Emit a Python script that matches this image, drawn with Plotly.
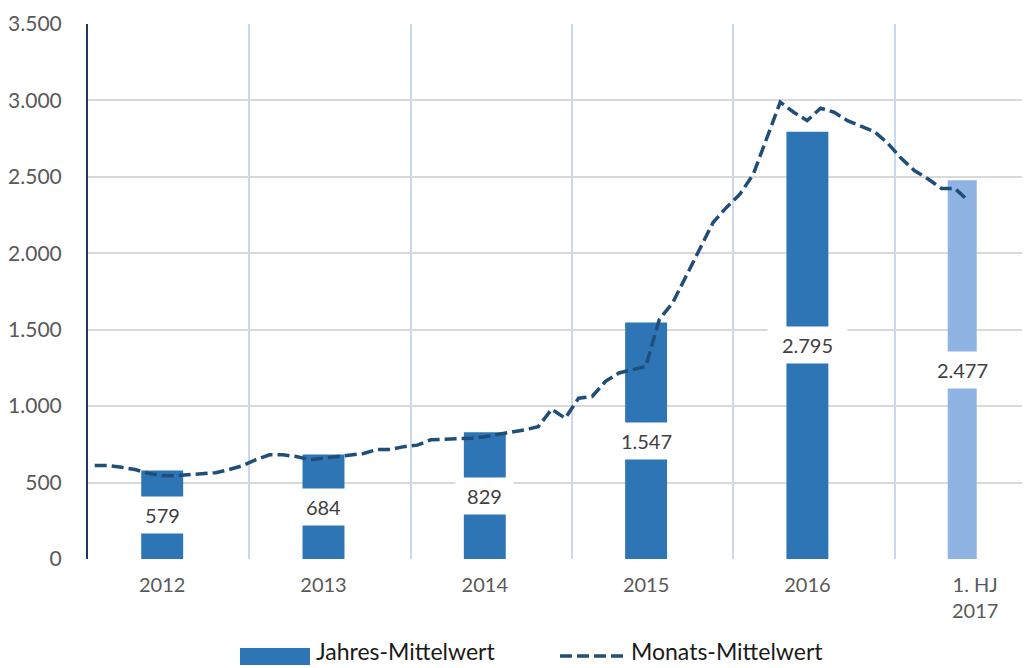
import plotly.graph_objects as go

# ---- data ----
categories = ["2012", "2013", "2014", "2015", "2016", "1. HJ<br>2017"]
annual_values = [579, 684, 829, 1547, 2795, 2477]
annual_labels = ["579", "684", "829", "1.547", "2.795", "2.477"]

monthly_2012 = [611, 611, 600, 585, 560, 545, 545, 553, 558, 565, 585, 610]
monthly_2013 = [650, 682, 682, 670, 649, 660, 672, 680, 690, 717, 717, 735]
monthly_2014 = [745, 780, 783, 783, 790, 800, 815, 830, 845, 866, 980, 921]
monthly_2015 = [1052, 1063, 1162, 1217, 1240, 1260, 1567, 1676, 1851, 2026, 2201, 2300]
monthly_2016 = [2387, 2518, 2748, 2989, 2923, 2868, 2949, 2923, 2868, 2830, 2796, 2720]
monthly_2017 = [2621, 2540, 2486, 2424, 2424, 2343]

y_ticks = [0, 500, 1000, 1500, 2000, 2500, 3000, 3500]

# ---- derived positions (x axis in years since Jan 2012) ----
monthly = monthly_2012 + monthly_2013 + monthly_2014 + monthly_2015 + monthly_2016 + monthly_2017
month_x = [(i + 0.5) / 12 for i in range(len(monthly))]

n_full = len(categories) - 1
bar_width = [0.26] * n_full + [0.18]
bar_left = [i + 0.33 for i in range(len(categories))]
bar_x = [l + w / 2 for l, w in zip(bar_left, bar_width)]
tick_x = bar_x[:n_full] + [n_full + 0.5]

bar_colors = ["#2E75B6"] * n_full + ["#8FB4E3"]
line_color = "#1F4E79"
tick_color = "#595959"
FONT = "Lato"

fig = go.Figure()
fig.add_trace(go.Bar(
    x=bar_x, y=annual_values, width=bar_width,
    marker=dict(color=bar_colors, line=dict(width=0)),
    name="Jahres-Mittelwert", showlegend=False, hoverinfo="skip",
))
fig.add_trace(go.Scatter(
    x=month_x, y=monthly, mode="lines",
    line=dict(color=line_color, width=3.5, dash="12px,5px"),
    name="Monats-Mittelwert", showlegend=False, hoverinfo="skip",
))

# data labels centred in the bars, white box
for x, v, t in zip(bar_x, annual_values, annual_labels):
    fig.add_annotation(
        x=x, y=v / 2, text=t, showarrow=False,
        font=dict(family=FONT, size=20, color="#404040"),
        bgcolor="white", borderpad=6, width=11 * len(t) + 12,
    )

# page has an 8px body margin -> figure origin at (8, 8)
OFF = 8
W, H = 1030 - OFF, 668 - OFF
PL, PT, PB = 88, 24, 559          # plot area edges in page pixels
ML, MR, MT = PL - OFF, 0, PT - OFF
MB = H - (PB - OFF)
pw, ph = W - ML - MR, H - MT - MB


def px_x(p):
    return (p - PL) / pw


def px_y(p):
    return (PB - p) / ph


# custom legend
fig.add_shape(type="rect", xref="paper", yref="paper",
              x0=px_x(240), x1=px_x(310), y0=px_y(665), y1=px_y(648),
              fillcolor="#2E75B6", line=dict(width=0))
fig.add_annotation(xref="paper", yref="paper", x=px_x(314), y=px_y(667),
                   xanchor="left", yanchor="bottom", showarrow=False,
                   text="Jahres-Mittelwert",
                   font=dict(family=FONT, size=23, color="#1a1a1a"))
fig.add_shape(type="line", xref="paper", yref="paper",
              x0=px_x(560), x1=px_x(623), y0=px_y(656), y1=px_y(656),
              line=dict(color=line_color, width=3.5, dash="12px,5px"))
fig.add_annotation(xref="paper", yref="paper", x=px_x(629), y=px_y(667),
                   xanchor="left", yanchor="bottom", showarrow=False,
                   text="Monats-Mittelwert",
                   font=dict(family=FONT, size=23, color="#1a1a1a"))

fig.update_layout(
    width=W, height=H,
    margin=dict(l=ML, r=MR, t=MT, b=MB),
    paper_bgcolor="white", plot_bgcolor="white",
    separators=",.",
    font=dict(family=FONT, size=20, color=tick_color),
    xaxis=dict(
        range=[0, (1030 - PL) / 161.3], tickmode="array", tickvals=tick_x, ticktext=categories,
        showgrid=False, zeroline=False, showline=False, ticks="",
        ticklabelstandoff=12,
        tickfont=dict(family=FONT, size=20, color=tick_color),
        minor=dict(tickmode="array", tickvals=list(range(1, len(categories))),
                   showgrid=True, gridcolor="#C9D8EE", gridwidth=2, ticks=""),
    ),
    yaxis=dict(
        range=[0, 3500], tickmode="array", tickvals=y_ticks, tickformat=",d",
        showgrid=True, gridcolor="#D9D9D9", gridwidth=2, zeroline=False,
        showline=True, linecolor="#1F3864", linewidth=2,
        ticks="", ticklabelstandoff=20,
        tickfont=dict(family=FONT, size=21, color=tick_color),
    ),
)

fig.write_html("out.html")
